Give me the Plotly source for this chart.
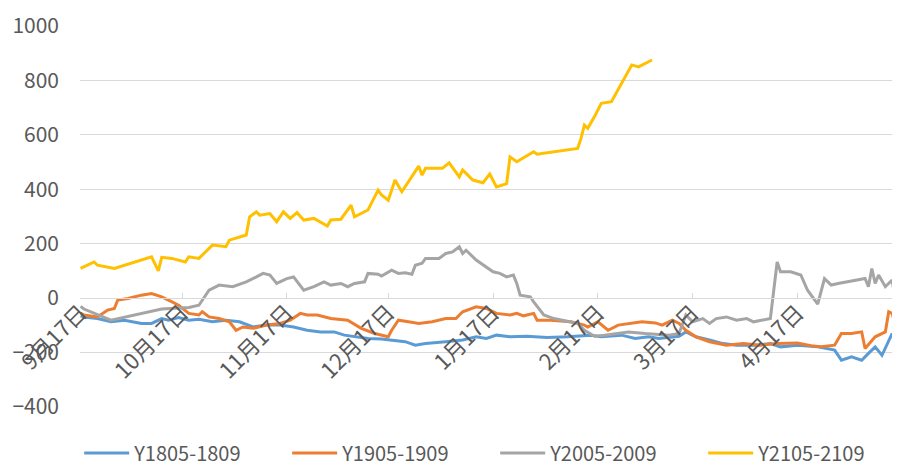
import pandas as pd
import plotly.graph_objects as go

START = pd.Timestamp("2020-09-17")

# days counted from 2020-09-17
blue_days = [0, 1, 5, 9, 13, 18, 21, 24, 26, 29, 32, 35, 39, 43, 47, 51, 55, 59, 63, 67,
             71, 75, 78, 81, 85, 89, 92, 96, 99, 102, 108, 113, 117, 120, 123, 127, 132, 138, 144, 147,
             151, 154, 160, 164, 168, 171, 177, 179, 182, 186, 190, 194, 200, 204, 207, 212, 218, 223, 225, 228,
             231, 233, 235, 237, 239, 240, 242]
blue_vals = [-65, -69, -75, -87, -81, -93, -93, -75, -81, -71, -81, -78, -87, -81, -87, -106, -99, -99, -106, -118,
             -124, -124, -136, -142, -148, -150, -154, -160, -173, -167, -160, -154, -142, -148, -136, -142, -140, -145, -142, -140,
             -136, -142, -136, -148, -142, -148, -140, -124, -142, -154, -167, -173, -173, -167, -179, -173, -179, -191, -228, -216,
             -228, -203, -179, -210, -154, -130, -215]

orange_days = [0, 1, 5, 8, 10, 11, 14, 18, 21, 24, 26, 27, 29, 32, 35, 36, 38, 41, 44, 46,
               48, 51, 55, 59, 62, 65, 67, 70, 74, 79, 83, 87, 89, 91, 92, 94, 97, 100, 104, 108,
               111, 113, 117, 120, 123, 127, 129, 131, 134, 135, 139, 145, 149, 150, 153, 156, 159, 162, 166, 170,
               172, 175, 177, 179, 182, 186, 191, 196, 201, 206, 212, 216, 219, 223, 225, 228, 231, 232, 235, 238,
               239, 240, 241, 242]
orange_vals = [-55, -62, -69, -44, -38, -7, -1, 11, 17, 5, -7, -14, -26, -56, -62, -50, -69, -75, -87, -118,
               -106, -111, -99, -93, -81, -56, -62, -62, -75, -81, -111, -130, -136, -142, -118, -81, -87, -93, -87, -75,
               -75, -50, -32, -38, -56, -62, -56, -65, -56, -81, -81, -87, -99, -106, -87, -118, -99, -93, -87, -91,
               -99, -81, -93, -118, -142, -160, -173, -167, -173, -167, -165, -175, -179, -173, -130, -130, -124, -185, -142, -124,
               -50, -56, -100, -120]

gray_days = [0, 1, 9, 24, 32, 35, 38, 41, 45, 49, 52, 54, 56, 58, 61, 63, 66, 69, 72, 74,
             77, 79, 81, 84, 85, 88, 89, 92, 94, 96, 98, 99, 101, 102, 106, 108, 110, 112, 113, 114,
             117, 120, 122, 124, 126, 128, 129, 130, 133, 134, 137, 140, 147, 149, 152, 155, 162, 167, 174, 177,
             179, 181, 184, 186, 188, 191, 194, 197, 199, 204, 205, 206, 207, 210, 213, 215, 218, 220, 222, 224,
             232, 233, 234, 235, 236, 238, 240, 241, 242]
gray_vals = [-30, -40, -81, -40, -34, -26, 29, 48, 42, 60, 78, 91, 85, 54, 72, 78, 29, 42, 60, 48,
             54, 42, 54, 60, 91, 88, 81, 103, 91, 93, 88, 121, 128, 146, 146, 164, 170, 189, 164, 176,
             140, 115, 97, 91, 78, 85, 54, 11, 5, -14, -62, -75, -93, -118, -140, -136, -124, -130, -136, -130,
             -62, -87, -75, -93, -75, -69, -81, -75, -87, -75, 29, 133, 97, 97, 85, 29, -22, 72, 48, 54,
             72, 42, 109, 54, 85, 42, 66, -10, -26]

yellow_days = [0, 4, 5, 10, 21, 23, 24, 27, 31, 32, 35, 39, 43, 44, 49, 50, 52, 53, 56, 58,
               60, 62, 64, 66, 69, 73, 74, 77, 80, 81, 85, 88, 89, 91, 93, 95, 100, 101, 102, 107,
               109, 112, 113, 116, 119, 121, 123, 126, 127, 129, 134, 135, 147, 148, 149, 150, 152, 154, 157, 160,
               161, 163, 165, 169]
yellow_vals = [109, 133, 121, 109, 152, 100, 150, 146, 133, 152, 146, 195, 189, 213, 232, 299, 317, 305, 311, 281,
               317, 293, 314, 287, 293, 265, 287, 290, 342, 299, 324, 397, 379, 360, 434, 391, 485, 452, 477, 477,
               497, 446, 471, 434, 424, 456, 409, 421, 519, 501, 538, 529, 550, 587, 636, 624, 667, 716, 722, 789,
               808, 857, 850, 875]

series = [
    ("Y1805-1809", blue_days, blue_vals, "#5B9BD5"),
    ("Y1905-1909", orange_days, orange_vals, "#ED7D31"),
    ("Y2005-2009", gray_days, gray_vals, "#A5A5A5"),
    ("Y2105-2109", yellow_days, yellow_vals, "#FFC000"),
]

tick_dates = pd.date_range("2020-09-01", "2021-05-01", freq="MS") + pd.Timedelta(days=16)
tick_text = [f"{d.month}月{d.day}日" for d in tick_dates]

FONT = "Noto Sans CJK SC"
GREY = "#595959"

fig = go.Figure()
for name, days, vals, color in series:
    x = START + pd.to_timedelta(days, unit="D")
    fig.add_trace(go.Scatter(x=x, y=vals, mode="lines", name=name,
                             line=dict(color=color, width=3)))

# page body adds an 8px offset, so the figure is sized to end at the window edge
fig.update_layout(
    width=892, height=461,
    margin=dict(l=72, r=0, t=18, b=62, autoexpand=False),
    paper_bgcolor="white", plot_bgcolor="white",
    font=dict(family=FONT, size=21, color=GREY),
    showlegend=True,
    legend=dict(orientation="h", x=-0.001, xanchor="left", y=-0.121, yanchor="middle",
                entrywidth=148, itemwidth=45, font=dict(size=20, color=GREY), traceorder="normal"),
)
fig.update_xaxes(
    type="date",
    range=[START - pd.Timedelta(hours=4), pd.Timestamp("2021-05-17 08:00")],
    tickvals=tick_dates, ticktext=tick_text, tickangle=-45,
    anchor="free", position=400 / 1400, automargin=False,
    showline=True, linecolor="#D9D9D9", linewidth=1,
    ticks="inside", ticklen=5, tickcolor="#D9D9D9",
    showgrid=False, zeroline=False,
    ticklabelstandoff=-8,
    tickfont=dict(size=22, color=GREY),
)
fig.update_yaxes(
    range=[-400, 1000], tickvals=list(range(-400, 1001, 200)),
    showgrid=True, gridcolor="#D9D9D9", gridwidth=1,
    zeroline=False, showline=False, automargin=False,
    ticklabelstandoff=20,
    tickfont=dict(size=21, color=GREY),
)

fig.write_html("out.html")
